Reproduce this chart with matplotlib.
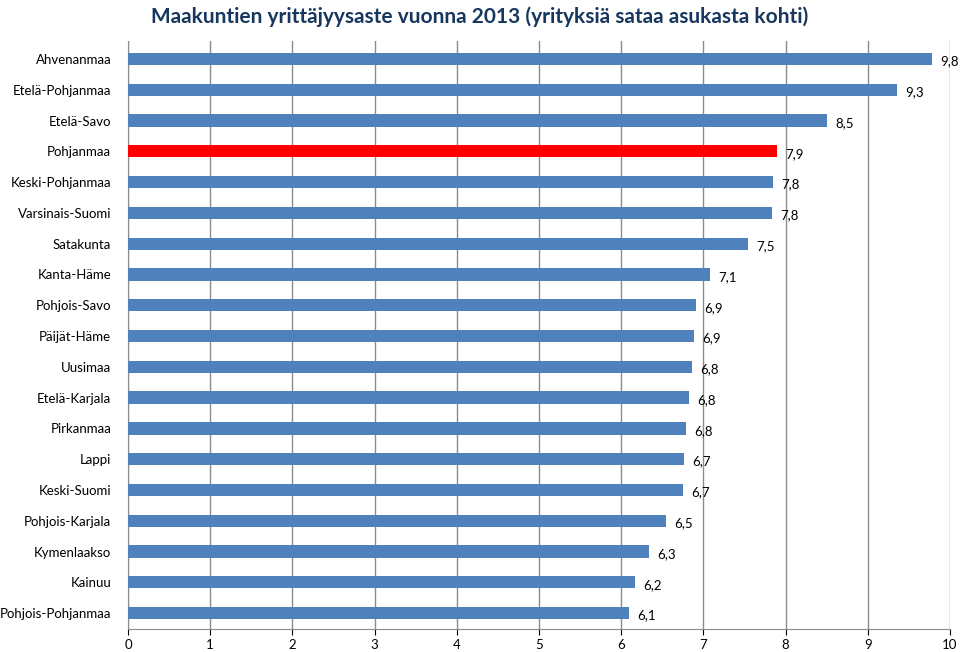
import matplotlib
matplotlib.use("Agg")
import matplotlib.pyplot as plt

regions = ["Ahvenanmaa","Etelä-Pohjanmaa","Etelä-Savo","Pohjanmaa","Keski-Pohjanmaa",
           "Varsinais-Suomi","Satakunta","Kanta-Häme","Pohjois-Savo","Päijät-Häme",
           "Uusimaa","Etelä-Karjala","Pirkanmaa","Lappi","Keski-Suomi",
           "Pohjois-Karjala","Kymenlaakso","Kainuu","Pohjois-Pohjanmaa"]
values = [9.78,9.36,8.50,7.90,7.85,7.83,7.54,7.08,6.91,6.89,6.86,6.82,6.79,6.76,6.75,6.55,6.34,6.17,6.09]
labels = ["9,8","9,3","8,5","7,9","7,8","7,8","7,5","7,1","6,9","6,9","6,8","6,8","6,8","6,7","6,7","6,5","6,3","6,2","6,1"]
highlight = "Pohjanmaa"

plt.rcParams["font.family"] = "Lato"
fig = plt.figure(figsize=(9.6, 6.52), dpi=100)
ax = fig.add_axes([128/960, 23.5/652, 822/960, 588/652])
y = list(range(len(regions)))
colors = ["#FF0000" if r == highlight else "#4F81BD" for r in regions]
ax.barh(y, values, height=0.4, color=colors, zorder=3)
for yi, v, l in zip(y, values, labels):
    ax.text(v + 0.1, yi + 0.08, l, va="center", ha="left", fontsize=9.5, zorder=4)
ax.set_xlim(0, 10)
ax.set_ylim(18.5, -0.6)
ax.set_yticks(y)
ax.set_yticklabels(regions, fontsize=9.5)
ax.set_xticks(range(11))
ax.tick_params(axis="x", labelsize=9.5, length=4)
ax.tick_params(axis="y", length=0, pad=12)
ax.grid(axis="x", color="#8c8c8c", linewidth=1, zorder=0)
for s in ["top", "right"]:
    ax.spines[s].set_visible(False)
ax.spines["left"].set_color("#8c8c8c")
ax.spines["bottom"].set_color("#8c8c8c")
fig.text(0.5, 0.99, "Maakuntien yrittäjyysaste vuonna 2013 (yrityksiä sataa asukasta kohti)",
         ha="center", va="top", fontsize=15, fontweight="bold", color="#17375E")
fig.savefig("out.png", dpi=100)
